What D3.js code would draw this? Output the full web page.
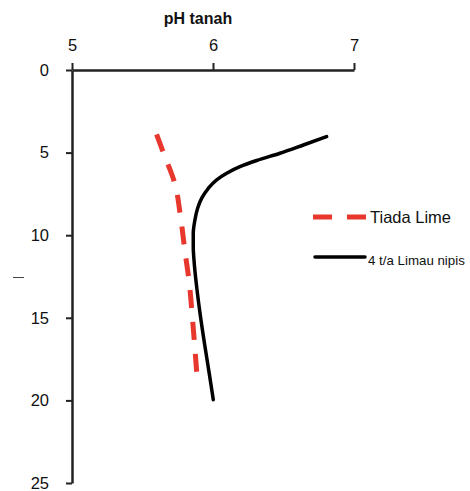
<!DOCTYPE html>
<html>
<head>
<meta charset="utf-8">
<script src="https://cdn.jsdelivr.net/npm/d3@7"></script>
<style>
  html, body { margin: 0; padding: 0; background: #fff; }
  svg { display: block; font-family: "Liberation Sans", Arial, sans-serif; }
</style>
</head>
<body>
<svg id="chart" width="470" height="491"></svg>
<script>
// Soil pH profiles by depth
const phTicks = [5, 6, 7];
const depthTicks = [0, 5, 10, 15, 20, 25];

const noLimeDepth = [3.9, 5, 6.9, 8.9, 10.9, 12.9, 14.9, 16.9, 19.05];
const noLimePh    = [5.60, 5.648, 5.73, 5.77, 5.80, 5.832, 5.853, 5.872, 5.891];

const limeDepth = [4.03, 4.54, 5.04, 5.48, 5.85, 6.25, 6.65, 7.16, 7.76, 8.37, 9.07, 9.88, 10.69, 11.7, 13.11, 14.72, 16.74, 18.35, 19.96];
const limePh    = [6.806, 6.641, 6.475, 6.31, 6.191, 6.097, 6.026, 5.967, 5.92, 5.891, 5.872, 5.86, 5.86, 5.867, 5.884, 5.908, 5.943, 5.973, 6.002];

const seriesNames = ["Tiada Lime", "4 t/a Limau nipis"];
const xTitle = "pH tanah";

const svg = d3.select("#chart");

const x = d3.scaleLinear().domain([5, 7]).range([72, 354]);
const y = d3.scaleLinear().domain([0, 25]).range([70, 483]);

// top pH axis
const xAxis = svg.append("g")
  .attr("transform", `translate(0,${y(0)})`)
  .call(d3.axisTop(x).tickValues(phTicks).tickFormat(d3.format("d"))
    .tickSize(7).tickPadding(12).tickSizeOuter(0));
xAxis.select(".domain").attr("stroke", "#222").attr("stroke-width", 2.5);
xAxis.selectAll(".tick line").attr("stroke", "#222").attr("stroke-width", 2);
xAxis.selectAll(".tick text").attr("font-size", 16.5).attr("fill", "#111")
  .attr("font-family", "Liberation Sans, Arial, sans-serif");

// depth axis
const yAxis = svg.append("g")
  .attr("transform", `translate(${x(5)},0)`)
  .call(d3.axisLeft(y).tickValues(depthTicks).tickFormat(d3.format("d"))
    .tickSize(6).tickPadding(17).tickSizeOuter(0));
yAxis.select(".domain").attr("stroke", "#222").attr("stroke-width", 2.5);
yAxis.selectAll(".tick line").attr("stroke", "#222").attr("stroke-width", 2);
yAxis.selectAll(".tick text").attr("font-size", 16.5).attr("fill", "#111")
  .attr("font-family", "Liberation Sans, Arial, sans-serif");

// axis title
svg.append("text")
  .attr("x", 198).attr("y", 24)
  .attr("text-anchor", "middle")
  .attr("font-size", 16).attr("font-weight", "bold").attr("fill", "#111")
  .text(xTitle);

// small depth-axis marker
svg.append("line")
  .attr("x1", 13).attr("x2", 24).attr("y1", 277.5).attr("y2", 277.5)
  .attr("stroke", "#444").attr("stroke-width", 1);

const line = d3.line()
  .x(d => x(d[1]))
  .y(d => y(d[0]))
  .curve(d3.curveMonotoneY);

// no-lime profile
svg.append("path")
  .datum(d3.zip(noLimeDepth, noLimePh))
  .attr("d", line)
  .attr("fill", "none")
  .attr("stroke", "#e8372c")
  .attr("stroke-width", 5)
  .attr("stroke-dasharray", "18 14");

// limed profile
svg.append("path")
  .datum(d3.zip(limeDepth, limePh))
  .attr("d", line)
  .attr("fill", "none")
  .attr("stroke", "#000")
  .attr("stroke-width", 3.5)
  .attr("stroke-linecap", "round");

// legend
const legend = svg.append("g");
legend.append("line")
  .attr("x1", 313).attr("x2", 366).attr("y1", 217).attr("y2", 217)
  .attr("stroke", "#e8372c").attr("stroke-width", 5)
  .attr("stroke-dasharray", "19 15").attr("stroke-linecap", "butt");
legend.append("text")
  .attr("x", 370).attr("y", 223)
  .attr("font-size", 16.5).attr("fill", "#111")
  .text(seriesNames[0]);
legend.append("line")
  .attr("x1", 315).attr("x2", 365).attr("y1", 257).attr("y2", 257)
  .attr("stroke", "#000").attr("stroke-width", 3.5).attr("stroke-linecap", "round");
legend.append("text")
  .attr("x", 368).attr("y", 265)
  .attr("font-size", 13.3).attr("fill", "#111")
  .text(seriesNames[1]);
</script>
</body>
</html>
